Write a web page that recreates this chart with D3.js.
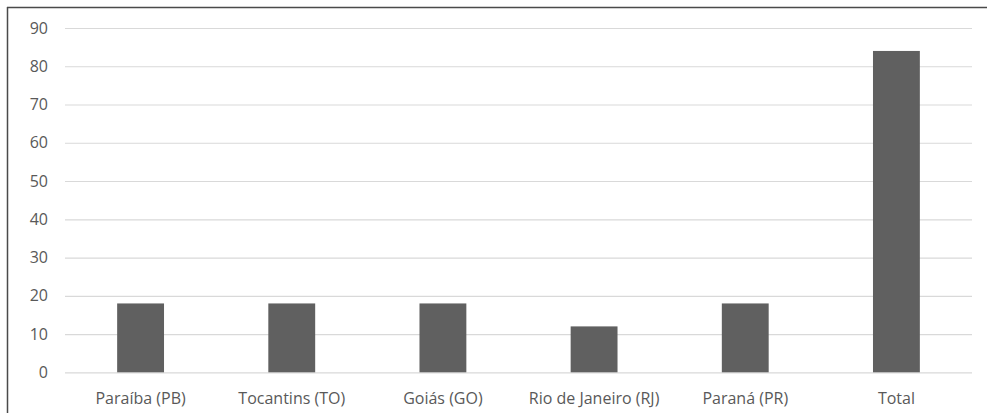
<!DOCTYPE html>
<html><head><meta charset="utf-8">
<script src="https://cdn.jsdelivr.net/npm/d3@7"></script>
<style>body{margin:0;background:#fff}svg{display:block}</style>
</head><body>
<svg id="c" width="987" height="413"></svg>
<script>
const categories = ["Paraíba (PB)", "Tocantins (TO)", "Goiás (GO)", "Rio de Janeiro (RJ)", "Paraná (PR)", "Total"];
const values = [18, 18, 18, 12, 18, 84];
const yTicks = [0, 10, 20, 30, 40, 50, 60, 70, 80, 90];

const svg = d3.select("#c");
const mLeft = 65, mRight = 972, mTop = 28, mBottom = 372.3;
const font = "'Open Sans', sans-serif";
const textColor = "#595959";

const x = d3.scaleBand().domain(categories).range([mLeft, mRight]).paddingInner(0.69).paddingOuter(0.345);
const y = d3.scaleLinear().domain([0, 90]).range([mBottom, mTop]);

// frame (top and left edges)
svg.append("line").attr("x1", 7).attr("x2", 987).attr("y1", 7.5).attr("y2", 7.5).attr("stroke", "#4a4a4a").attr("stroke-width", 1.5);
svg.append("line").attr("x1", 7.5).attr("x2", 7.5).attr("y1", 7).attr("y2", 413).attr("stroke", "#4a4a4a").attr("stroke-width", 1.5);

// gridlines + y labels
const yAxis = d3.axisLeft(y).tickValues(yTicks).tickSize(-(mRight - mLeft)).tickPadding(17);
const gy = svg.append("g").attr("transform", `translate(${mLeft},0)`).call(yAxis);
gy.select(".domain").remove();
gy.selectAll(".tick line").attr("stroke", "#d9d9d9").attr("stroke-width", 1.2);
gy.selectAll(".tick text").attr("fill", textColor).style("font-family", font).style("font-size", "16px");

// bars
svg.append("g").selectAll("rect").data(values).join("rect")
  .attr("x", (d, i) => x(categories[i]))
  .attr("width", x.bandwidth())
  .attr("y", d => y(d))
  .attr("height", d => y(0) - y(d))
  .attr("fill", "#606060");

// x labels
const xAxis = d3.axisBottom(x).tickSize(0).tickPadding(20);
const gx = svg.append("g").attr("transform", `translate(0,${mBottom})`).call(xAxis);
gx.select(".domain").remove();
gx.selectAll(".tick text").attr("fill", textColor).style("font-family", font).style("font-size", "16px");
</script>
</body></html>
